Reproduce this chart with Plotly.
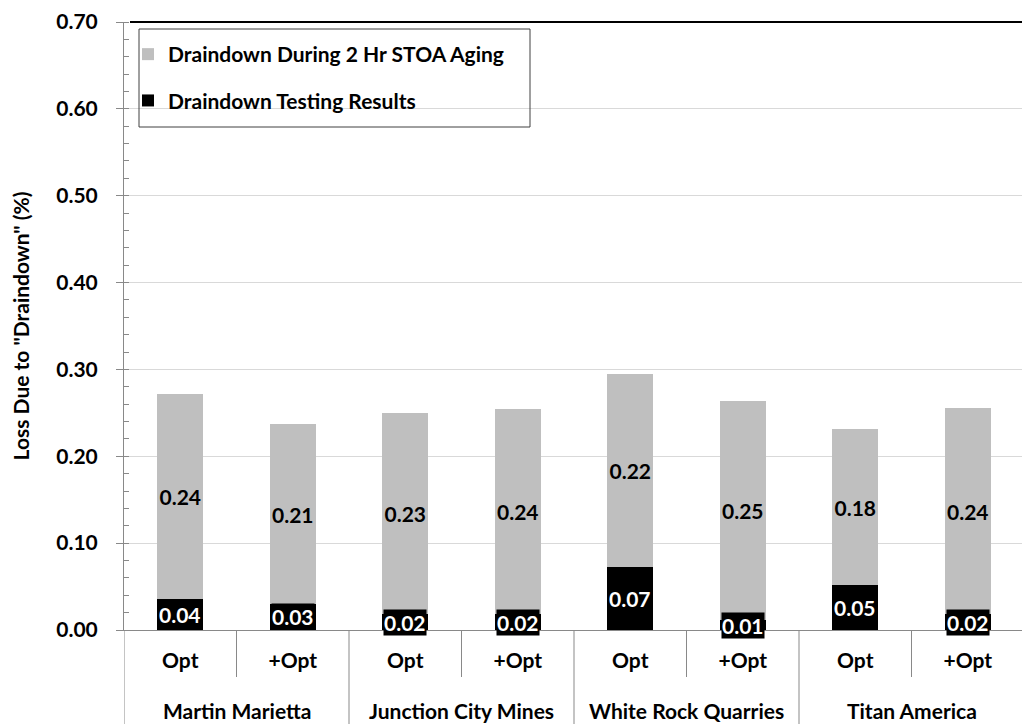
import plotly.graph_objects as go

# ---- data ----
companies = ["Martin Marietta", "Junction City Mines", "White Rock Quarries", "Titan America"]
mixes = ["Opt", "+Opt"]
outer_labels = [c for c in companies for _ in mixes]
inner_labels = mixes * len(companies)
testing_results = [0.036, 0.030, 0.018, 0.018, 0.072, 0.011, 0.052, 0.018]
stoa_aging = [0.236, 0.207, 0.232, 0.237, 0.223, 0.253, 0.179, 0.238]
y_tick_values = [0.0, 0.1, 0.2, 0.3, 0.4, 0.5, 0.6, 0.7]

FONT = "Lato"
FS = 21
AXIS_GRAY = "#898989"
BAR_GRAY = "#bfbfbf"

# page body has an 8px margin -> screen = figure + 8
OFF = 8
SCR_L, SCR_R, SCR_T, SCR_B = 124, 1024, 22, 630
W, H = 1030, 724
plot_w = SCR_R - SCR_L
plot_h = SCR_B - SCR_T


def px_x(sx):
    return (sx - SCR_L) / plot_w


def px_y(sy):
    return (SCR_B - sy) / plot_h


positions = list(range(len(inner_labels)))

fig = go.Figure()
fig.add_trace(go.Bar(
    x=positions, y=testing_results,
    name="<b>Draindown Testing Results</b>", marker=dict(color="black", line=dict(width=0)),
    legendgroup="g2", legendrank=2, hoverinfo="y",
))
fig.add_trace(go.Bar(
    x=positions, y=stoa_aging,
    name="<b>Draindown During 2 Hr STOA Aging</b>", marker=dict(color=BAR_GRAY, line=dict(width=0)),
    legendgroup="g1", legendrank=1,
    texttemplate="<b>%{y:.2f}</b>", textposition="inside", insidetextanchor="middle",
    textangle=0, constraintext="none",
    textfont=dict(family=FONT, size=FS, color="black"),
))

# labels of the black segments, with a black box behind them
for i, v in enumerate(testing_results):
    fig.add_annotation(
        x=positions[i], y=v / 2, xref="x", yref="y", text=f"<b>{v:.2f}</b>", showarrow=False,
        font=dict(family=FONT, size=FS, color="white"),
        bgcolor="black", borderpad=0,
    )

# outer category labels
n_mix = len(mixes)
for k, c in enumerate(companies):
    center = positions[k * n_mix] + (n_mix - 1) / 2
    fig.add_annotation(
        x=center, y=px_y(710), xref="x", yref="paper", text=f"<b>{c}</b>", showarrow=False,
        font=dict(family=FONT, size=FS, color="black"), yanchor="middle",
    )
    # inner divider between Opt / +Opt
    xin = positions[k * n_mix] + 0.5
    fig.add_shape(type="line", xref="x", yref="paper", x0=xin, x1=xin,
                  y0=0, y1=px_y(677), line=dict(color=AXIS_GRAY, width=1))
    # outer divider on the left of each company
    xo = positions[k * n_mix] - 0.5
    fig.add_shape(type="line", xref="x", yref="paper", x0=xo, x1=xo,
                  y0=0, y1=px_y(735), line=dict(color=AXIS_GRAY, width=1))

# top border line
fig.add_shape(type="line", xref="paper", yref="paper", x0=px_x(130), x1=1.01, y0=1, y1=1,
              line=dict(color="black", width=2))
# legend box
fig.add_shape(type="rect", xref="paper", yref="paper",
              x0=px_x(139), x1=px_x(530), y0=px_y(127), y1=px_y(29),
              line=dict(color="#404040", width=1), fillcolor="rgba(0,0,0,0)")

fig.update_layout(
    barmode="stack",
    bargap=0.59,
    width=W, height=H,
    margin=dict(l=SCR_L - OFF, r=W - (SCR_R - OFF), t=SCR_T - OFF, b=H - (SCR_B - OFF), autoexpand=False),
    plot_bgcolor="white", paper_bgcolor="white",
    font=dict(family=FONT, size=FS, color="black"),
    showlegend=True,
    legend=dict(
        x=px_x(128), y=px_y(34), xanchor="left", yanchor="top",
        traceorder="grouped", tracegroupgap=16, itemsizing="constant",
        bgcolor="rgba(0,0,0,0)", borderwidth=0,
        font=dict(family=FONT, size=FS, color="black"),
    ),
    xaxis=dict(
        range=[-0.5, len(positions) - 0.5],
        tickvals=positions, ticktext=[f"<b>{t}</b>" for t in inner_labels],
        showline=True, linecolor=AXIS_GRAY, linewidth=1,
        ticks="", showgrid=False, zeroline=False, ticklabelstandoff=12,
        tickfont=dict(family=FONT, size=FS, color="black"),
    ),
    yaxis=dict(
        range=[0, 0.70], tickvals=y_tick_values,
        ticktext=[f"<b>{v:.2f}</b>" for v in y_tick_values],
        showline=True, linecolor=AXIS_GRAY, linewidth=1,
        ticks="outside", ticklen=7, tickcolor=AXIS_GRAY,
        minor=dict(ticks="inside", dtick=0.02, ticklen=5, tickcolor=AXIS_GRAY, showgrid=False),
        showgrid=True, gridcolor="#d9d9d9", gridwidth=1, zeroline=False,
        ticklabelstandoff=14, ticklabeloverflow="allow",
        tickfont=dict(family=FONT, size=FS, color="black"),
        title=dict(text='<b>Loss Due to "Draindown" (%)</b>', standoff=26,
                   font=dict(family=FONT, size=21, color="black")),
    ),
)

fig.write_html("out.html")
